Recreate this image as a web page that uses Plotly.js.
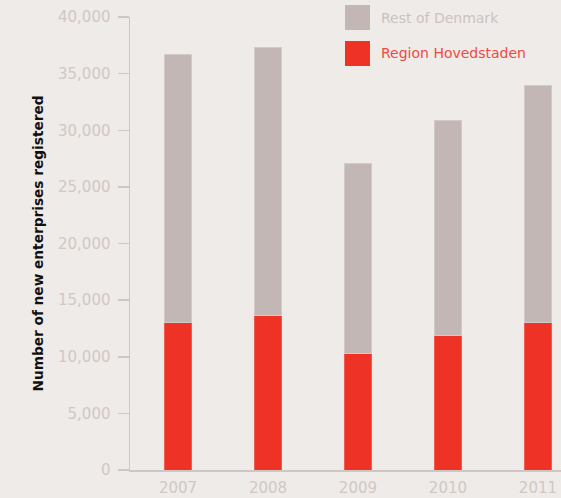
<!DOCTYPE html>
<html>
<head>
<meta charset="utf-8">
<script src="https://cdn.plot.ly/plotly-3.0.1.min.js"></script>
<style>
  html, body { margin: 0; padding: 0; background: #efebe8; }
  #chart { width: 561px; height: 498px; }
</style>
</head>
<body>
<div id="chart"></div>
<script>
// New enterprises registered per year
const years = ['2007', '2008', '2009', '2010', '2011'];
const regionHovedstaden = [13000, 13600, 10250, 11900, 13000];
const restOfDenmark = [23700, 23700, 16800, 18950, 20950];
const yTickValues = [0, 5000, 10000, 15000, 20000, 25000, 30000, 35000, 40000];
const yTickLabels = ['0', '5,000', '10,000', '15,000', '20,000', '25,000', '30,000', '35,000', '40,000'];
const seriesNames = ['Rest of Denmark', 'Region Hovedstaden'];

const grey = '#c2b7b4';
const red = '#ef3226';
const labelGrey = '#d0c8c5';
const font = 'DejaVu Sans, sans-serif';

const traces = [
  {
    type: 'bar', x: years, y: regionHovedstaden, name: seriesNames[1],
    marker: { color: red, line: { color: '#f25b50', width: 1 } },
    hoverinfo: 'x+y+name'
  },
  {
    type: 'bar', x: years, y: restOfDenmark, name: seriesNames[0],
    marker: { color: grey, line: { color: '#d3cac7', width: 1 } },
    hoverinfo: 'x+y+name'
  }
];

// Legend drawn as large swatches with coloured labels
const legendItems = [
  { name: seriesNames[0], swatch: grey, text: '#cbc2bf', top: 5 },
  { name: seriesNames[1], swatch: red, text: '#ef4a3f', top: 41 }
];
const H = 498, W = 561;
const shapes = legendItems.map(it => ({
  type: 'rect', xref: 'paper', yref: 'paper', layer: 'above',
  x0: (345 - 130) / 431, x1: (370 - 130) / 431,
  y0: (470 - (it.top + 25)) / 453, y1: (470 - it.top) / 453,
  fillcolor: it.swatch, line: { width: 0 }
}));
const annotations = legendItems.map(it => ({
  xref: 'paper', yref: 'paper', xanchor: 'left', yanchor: 'middle',
  x: (379 - 130) / 431, y: (470 - (it.top + 12.5)) / 453,
  text: it.name, showarrow: false,
  font: { family: font, size: 14, color: it.text }
}));

const layout = {
  width: W, height: H,
  margin: { l: 130, r: 0, t: 17, b: 28 },
  paper_bgcolor: '#efebe8',
  plot_bgcolor: '#efebe8',
  barmode: 'stack',
  bargap: 0.7,
  showlegend: false,
  xaxis: {
    type: 'category',
    range: [-0.533, 4.256],
    showline: true, linecolor: '#cfc7c4', linewidth: 1.5,
    ticks: '', showgrid: false, zeroline: false,
    ticklabelstandoff: 3,
    tickfont: { family: font, size: 15, color: labelGrey },
    fixedrange: true
  },
  yaxis: {
    range: [0, 40000],
    tickvals: yTickValues, ticktext: yTickLabels,
    showline: true, linecolor: '#cfc7c4', linewidth: 1.5,
    ticks: 'outside', ticklen: 11, tickcolor: '#cfc7c4', tickwidth: 1.5,
    ticklabelstandoff: 4,
    showgrid: false, zeroline: false,
    tickfont: { family: font, size: 15, color: labelGrey },
    title: {
      text: 'Number of new enterprises registered',
      font: { family: font, size: 13.7, color: '#111111', weight: 'bold' },
      standoff: 11
    },
    automargin: false,
    fixedrange: true
  },
  shapes: shapes,
  annotations: annotations,
  font: { family: font }
};

Plotly.newPlot('chart', traces, layout, { displayModeBar: false, staticPlot: true });
</script>
</body>
</html>
